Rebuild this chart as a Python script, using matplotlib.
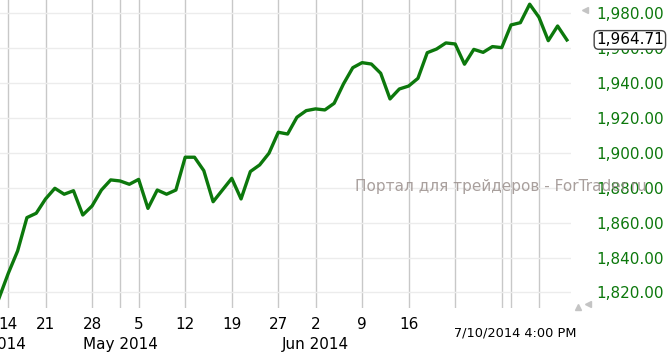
import numpy as np
import pandas as pd
import matplotlib
matplotlib.use('Agg')
import matplotlib.pyplot as plt
from matplotlib.transforms import blended_transform_factory

# Дни торгов (без праздников 18 апр, 26 мая, 4 июл)
holidays = ['2014-04-18', '2014-05-26', '2014-07-04']
dates = pd.bdate_range('2014-04-11', '2014-07-10', freq='C', holidays=holidays)

closes = [1816.7, 1831.0, 1843.8, 1862.9, 1865.4, 1873.6, 1879.7, 1876.3, 1878.3, 1864.4,
          1869.6, 1878.7, 1884.5, 1883.9, 1882.0, 1884.8, 1868.2, 1878.7, 1876.3, 1878.7,
          1897.5, 1897.5, 1889.8, 1872.0, 1878.7, 1885.4, 1873.6, 1889.3, 1893.1, 1899.8,
          1911.8, 1910.8, 1920.4, 1924.2, 1925.2, 1924.6, 1928.4, 1939.5, 1948.8, 1951.7,
          1950.9, 1945.6, 1930.9, 1936.6, 1938.3, 1942.7, 1957.4, 1959.5, 1963.0, 1962.4,
          1950.8, 1959.3, 1957.6, 1960.9, 1960.3, 1973.3, 1974.6, 1985.2, 1977.7, 1964.3,
          1972.7, 1964.71]

y_ticks = [1820, 1840, 1860, 1880, 1900, 1920, 1940, 1960, 1980]
month_names = ['Apr 2014', 'May 2014', 'Jun 2014']
last_label = '7/10/2014 4:00 PM'
watermark = 'Портал для трейдеров - ForTrader.ru'

x = np.arange(len(dates))
week = dates.isocalendar().week.values
week_idx = [i for i in range(1, len(dates)) if week[i] != week[i - 1]]
month_idx = [i for i in range(1, len(dates)) if dates[i].month != dates[i - 1].month]
n_week_labels = 10

green = '#0c780c'
W, H = 670, 352
fig = plt.figure(figsize=(W / 100, H / 100), dpi=100)
ax = fig.add_axes([0, 1 - 308 / H, 571 / W, 308 / H])

ax.plot(x, closes, color=green, lw=2.4, solid_joinstyle='round', zorder=3)
ax.set_xlim(0.108, 61.44)
ax.set_ylim(1811.1, 1987.6)

for s in ax.spines.values():
    s.set_visible(False)
ax.set_xticks([])
ax.yaxis.tick_right()
ax.set_yticks(y_ticks, ['{:,.2f}'.format(v) for v in y_ticks])
ax.tick_params(axis='y', length=0, pad=18, labelsize=11, labelcolor=green)
ax.grid(axis='y', color='#ececec', lw=1)
for i in sorted(set(week_idx + month_idx)):
    ax.axvline(i, color='#c8c8c8', lw=1, zorder=1)

tr = blended_transform_factory(ax.transData, ax.transAxes)
for i in week_idx[:n_week_labels]:
    ax.text(i, -0.052, str(dates[i].day), transform=tr, ha='center', va='center',
            fontsize=11, color='black')
ax.text(2.85, -0.117, month_names[0], transform=tr, ha='right', va='center', fontsize=11)
for name, i in zip(month_names[1:], month_idx[:2]):
    ax.text(i, -0.117, name, transform=tr, ha='center', va='center', fontsize=11)

fig.text(454 / W, 1 - 333 / H, last_label, ha='left', va='center', fontsize=9.3)

# текущее значение
trv = blended_transform_factory(ax.transAxes, ax.transData)
ax.text(596 / 571, closes[-1], '{:,.2f}'.format(closes[-1]), transform=trv,
        ha='left', va='center', fontsize=11, color='black', zorder=5,
        bbox=dict(boxstyle='round,pad=0.12,rounding_size=0.3', fc='white', ec='#444444', lw=1))

fig.text(355 / W, 1 - 187 / H, watermark, ha='left', va='center', fontsize=11,
         color='#9a8f8c', alpha=0.85)

# маленькие треугольники
fig.add_artist(plt.Line2D([585 / W], [1 - 10 / H], marker='<', color='#c4c4c4', ms=5, lw=0))
fig.add_artist(plt.Line2D([578 / W], [1 - 307 / H], marker='^', color='#c4c4c4', ms=5, lw=0))
fig.add_artist(plt.Line2D([588 / W], [1 - 304 / H], marker='<', color='#c4c4c4', ms=5, lw=0))

fig.savefig('out.png', dpi=100)
